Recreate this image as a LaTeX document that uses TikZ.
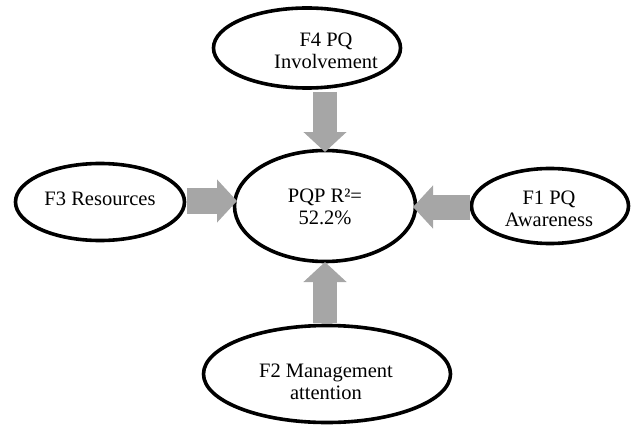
\documentclass[tikz,border=0pt]{standalone}
\usepackage{fontspec}
\setmainfont{Liberation Serif}
\usetikzlibrary{shapes.geometric,arrows.meta}
\definecolor{arrowgray}{RGB}{166,166,166}
\tikzset{
  oval/.style={ellipse, draw=black, line width=3.6pt, fill=white, inner sep=0pt},
  lbl/.style={align=center, font=\fontsize{20.5}{21.5}\selectfont, inner sep=0pt},
  blockarrow/.style={draw=arrowgray, line width=25pt,
    -{Triangle[width=42pt 0, length=20pt 0, fill=arrowgray]}},
}
\begin{document}
\begin{tikzpicture}[x=1pt,y=-1pt]
\useasboundingbox (0,0) rectangle (631,425);
% ellipses
\node[oval, minimum width=187pt, minimum height=80pt] (f4) at (307,48) {};
\node[oval, minimum width=181pt, minimum height=111pt] (pqp) at (325,206) {};
\node[oval, minimum width=169pt, minimum height=77pt] (f3) at (100,202) {};
\node[oval, minimum width=157pt, minimum height=75pt] (f1) at (550,206) {};
\node[oval, minimum width=247pt, minimum height=97pt] (f2) at (327,374) {};
% labels
\node[lbl] (t4) at (326,51) {F4 PQ\\Involvement};
\node[lbl] (tp) at (325,207) {PQP R²=\\52.2\%};
\node[lbl] (t3) at (100,199) {F3 Resources};
\node[lbl] (t1) at (549,209) {F1 PQ\\Awareness};
\node[lbl] (t2) at (326,382) {F2 Management\\attention};
% arrow endpoints
\coordinate (a4s) at (325,92);
\coordinate (a4e) at (325,152);
\coordinate (a3s) at (187,201);
\coordinate (a3e) at (237,201);
\coordinate (a1s) at (470,207);
\coordinate (a1e) at (413,207);
\coordinate (a2s) at (325,323);
\coordinate (a2e) at (325,262);
% block arrows
\draw[blockarrow, line width=24pt] (a4s) -- (a4e);
\draw[blockarrow, line width=26pt] (a3s) -- (a3e);
\draw[blockarrow, line width=25pt] (a1s) -- (a1e);
\draw[blockarrow, line width=24pt] (a2s) -- (a2e);
\end{tikzpicture}
\end{document}
